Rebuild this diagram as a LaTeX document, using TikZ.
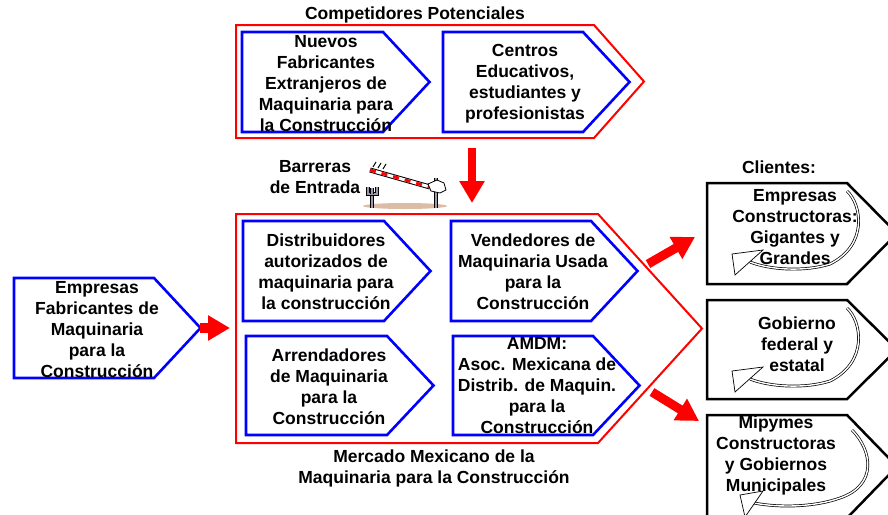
\documentclass[tikz,border=0pt]{standalone}
\usepackage{fontspec}
\setmainfont{Liberation Sans}
\usetikzlibrary{arrows.meta}
\definecolor{rojo}{HTML}{FF0000}
\definecolor{azul}{HTML}{0000FF}
\definecolor{arena}{HTML}{DDBBA5}
\definecolor{poste}{HTML}{9A9AAA}
\tikzset{
  marco/.style={draw=rojo, line width=2pt},
  caja/.style={draw=azul, line width=2.6pt},
  cliente/.style={draw=black, line width=2.5pt},
  lab/.style={font=\bfseries\fontsize{17.5}{21}\selectfont, align=center, inner sep=0pt},
  flecha/.style={draw=rojo, -{Triangle[length=22pt,width=24pt]}},
  curva/.style={draw=black, double=white, double distance=1.4pt, line width=0.7pt},
  punta/.style={draw=black, fill=white, line width=0.7pt},
  palo/.style={draw=black, double=poste, double distance=1.6pt, line width=0.8pt},
}
% left, top, right, bottom, length of the point
\newcommand{\flechabox}[6]{%
  \draw[#1] (#2,#3) -- (#4,#3) -- ({#4+#6},{(#3+#5)/2}) -- (#4,#5) -- (#2,#5) -- cycle;}

\begin{document}
\begin{tikzpicture}[x=1pt,y=-1pt]
  \useasboundingbox (0,0) rectangle (888,514);
  \clip (0,0) rectangle (888,514);

  \flechabox{marco}{236}{25}{594}{138}{50}
  \flechabox{marco}{236}{214}{598}{443}{104}

  \foreach \l/\t/\r/\b in {242/32/383/132, 443/32/583/132, 243/221/384/321,
      451/221/591/321, 246/336/387/435, 453/336/593/435, 14/278/154/378}{
    \flechabox{caja}{\l}{\t}{\r}{\b}{46.5}
  }
  \foreach \t/\b in {183/284, 300/399, 415/518}{
    \flechabox{cliente}{707}{\t}{847}{\b}{50}
  }

  % curved arrows inside the clients
  \foreach \dy in {0,117}{
    \draw[curva] (847,{191+\dy}) .. controls (862,{205+\dy}) and (868,{245+\dy}) .. (830,{264+\dy})
      .. controls (805,{272+\dy}) and (770,{270+\dy}) .. (750,{262+\dy});
    \draw[punta] (732,{254+\dy}) -- (763,{250+\dy}) -- (735,{275+\dy}) -- cycle;
  }
  \draw[curva] (852,430) .. controls (872,450) and (878,485) .. (840,498)
    .. controls (815,507) and (780,508) .. (754,503);
  \draw[punta] (740,495) -- (763,491) -- (745,517) -- cycle;

  % barrier
  \fill[arena] (405,206) ellipse (42 and 3);
  \draw[palo] (436,178) -- (436,208);
  \draw[palo] (372,208) -- (372,194);
  \draw[palo] (368,187) -- (368,194) -- (377,194) -- (377,187);
  \draw[palo] (372,194) -- (372,188);
  \draw[line width=5pt] (370,170) -- (430,187);
  \draw[white, line width=3pt] (370,170) -- (430,187);
  \draw[rojo, line width=3pt, dash pattern=on 6pt off 6pt] (370,170) -- (430,187);
  \filldraw[fill=white, draw=black, line width=0.8pt] (428,184) -- (437,180) -- (444,183)
    -- (446,190) -- (440,193) -- (431,191) -- cycle;
  \foreach \i in {0,1,2}
    \draw[line width=1pt] ({373+5*\i},{167+\i}) -- ++(3,-5);

  \node[lab] (comp) at (415,15) {Competidores Potenciales};
  \node[lab] (nuevos) at (326,84) {Nuevos\\Fabricantes\\Extranjeros de\\Maquinaria para\\la Construcción};
  \node[lab] (centros) at (525,84) {Centros\\Educativos,\\estudiantes y\\profesionistas};
  \node[lab] (barreras) at (315,177) {Barreras\\de Entrada};
  \node[lab] (dist) at (326,272) {Distribuidores\\autorizados de\\maquinaria para\\la construcción};
  \node[lab] (vend) at (533,272) {Vendedores de\\Maquinaria Usada\\para la\\Construcción};
  \node[lab] (arren) at (329,387) {Arrendadores\\de Maquinaria\\para la\\Construcción};
  \node[lab] (amdm) at (537,386) {AMDM:\\Asoc. Mexicana de\\Distrib. de Maquin.\\para la\\Construcción};
  \node[lab] (mercado) at (434,468) {Mercado Mexicano de la\\Maquinaria para la Construcción};
  \node[lab] (fabric) at (97,330) {Empresas\\Fabricantes de\\Maquinaria\\para la\\Construcción};
  \node[lab] (clientes) at (779,167) {Clientes:};
  \node[lab] (cli1) at (795,227) {Empresas\\Constructoras:\\Gigantes y\\Grandes};
  \node[lab] (cli2) at (797,344) {Gobierno\\federal y\\estatal};
  \node[lab] (cli3) at (776,455) {Mipymes\\Constructoras\\y Gobiernos\\Municipales};

  \coordinate (comp-s) at (472,148);
  \coordinate (merc-n) at (472,203);
  \coordinate (fab-e) at (200,328);
  \coordinate (merc-w) at (230,328);
  \coordinate (merc-ne) at (648,264);
  \coordinate (cli1-w) at (695,237);
  \coordinate (merc-se) at (652,392);
  \coordinate (cli3-w) at (699,421);
  \draw[flecha, line width=8pt] (comp-s) -- (merc-n);
  \draw[flecha, line width=10pt] (fab-e) -- (merc-w);
  \draw[flecha, line width=9pt] (merc-ne) -- (cli1-w);
  \draw[flecha, line width=9pt] (merc-se) -- (cli3-w);
\end{tikzpicture}
\end{document}
